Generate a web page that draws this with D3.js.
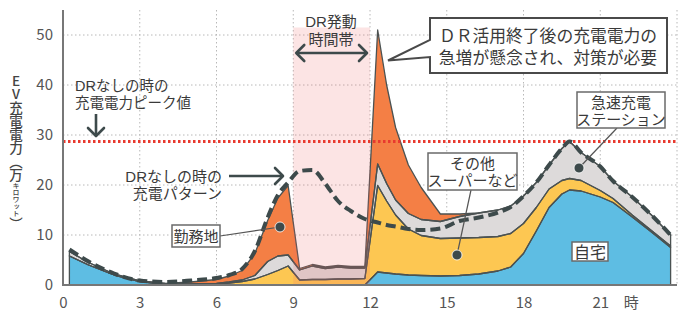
<!DOCTYPE html>
<html><head><meta charset="utf-8">
<script src="https://cdn.jsdelivr.net/npm/d3@7"></script>
<style>
html,body{margin:0;padding:0;background:#fff;}
svg{display:block;font-family:"Noto Sans CJK JP","Noto Sans",sans-serif;}
.lbl{font-family:"Liberation Sans","Noto Sans CJK JP",sans-serif;}
</style></head>
<body><svg id="c" width="700" height="326"></svg>
<script>
// ---- data ----
const hours   = [0.25,1,2,3,4,5,6,6.5,7,7.5,8,8.4,8.8,9.25,9.75,10.25,10.75,11.25,11.8,12.3,12.65,13,13.5,14,14.75,15.5,16.25,17,17.5,18,18.5,19,19.5,19.8,20.25,21,21.5,22.25,23,23.75];
const home    = [5.8,4.0,2.0,0.7,0.1,0,0,0,0,0,0,0,0,0,0,0,0,0,0,2.6,2.4,2.2,2.0,1.9,1.8,1.9,2.2,2.8,3.6,6.3,10.8,15.5,18.2,19.0,18.8,17.6,16.5,13.6,10.6,7.5];
const other   = [0,0,0,0,0.1,0.1,0.2,0.4,0.7,1.2,2.1,2.9,3.8,1.0,1.1,1.1,1.2,1.2,1.3,17.3,14.4,11.8,9.2,8.0,7.5,7.5,7.3,6.9,6.7,6.0,4.7,3.7,2.7,2.3,2.1,1.3,0.8,0.4,0.3,0.3];
const station = [0.9,0.5,0.2,0.1,0.1,0.1,0.1,0.2,0.3,0.7,2.6,2.9,2.2,2.0,2.7,2.2,2.4,2.2,2.1,4.3,3.5,3.0,3.1,3.2,3.4,4.3,4.9,5.3,5.5,5.5,5.0,4.8,6.4,7.4,5.6,4.8,3.5,3.6,3.1,2.2];
const work    = [0,0,0,0,0,0.4,0.8,1.2,1.9,4.4,8.2,11.6,13.9,0.3,0.3,0.3,0.3,0.3,0.3,26.8,19.7,14.5,9.7,6.4,1.5,0.5,0,0,0,0,0,0,0,0,0,0,0,0,0,0];
const noDR    = [7.1,4.7,2.3,0.9,0.6,0.9,1.4,2.0,3.2,6.8,13.5,18.0,20.5,22.8,23.0,20.3,16.8,14.8,13.2,12.5,12.0,11.7,11.2,11.0,11.3,12.8,13.5,14.5,15.6,17.8,20.5,24.0,27.3,28.7,26.5,23.7,20.8,17.6,14.0,10.0];
const seriesKeys   = ["home","other","station","work"];
const seriesColors = ["#5ebde3","#fdc752","#dddada","#f47f45"];
const yTicks = [0,10,20,30,40,50];
const xTicks = [0,3,6,9,12,15,18,21];
const xGrid  = [3,6,9,12,15,18,21,24];
const peakNoDR = 28.7;
const drWindow = [9,12];

// ---- setup ----
const svg = d3.select("#c");
const x = d3.scaleLinear().domain([0,24]).range([63,677]);
const y = d3.scaleLinear().domain([0,55]).range([285,10]);
const txt = "#3a3a3a", dark = "#3d4a4b";

const rows = hours.map((h,i)=>({h, home:home[i], other:other[i], station:station[i], work:work[i]}));
const stacked = d3.stack().keys(seriesKeys)(rows);

// grid
svg.append("g").selectAll("line").data(yTicks.filter(d=>d>0)).join("line")
  .attr("x1",x(0)).attr("x2",x(24)).attr("y1",d=>y(d)).attr("y2",d=>y(d))
  .attr("stroke","#b8b8b8").attr("stroke-width",1).attr("stroke-dasharray","1.5,2.5");
svg.append("g").selectAll("line").data(xGrid).join("line")
  .attr("x1",d=>x(d)).attr("x2",d=>x(d)).attr("y1",y(55)).attr("y2",y(0))
  .attr("stroke","#b8b8b8").attr("stroke-width",1).attr("stroke-dasharray","1.5,2.5");

// areas
const area = d3.area().x(d=>x(d.data.h)).y0(d=>y(d[0])).y1(d=>y(d[1]));
svg.append("g").selectAll("path").data(stacked).join("path")
  .attr("d",area).attr("fill",(d,i)=>seriesColors[i]);
svg.append("g").selectAll("path").data(stacked).join("path")
  .attr("d",area).attr("fill","none").attr("stroke","#4b5252").attr("stroke-width",1.3).attr("stroke-linejoin","round");

// DR band overlay
svg.append("rect").attr("x",x(drWindow[0])).attr("width",x(drWindow[1])-x(drWindow[0]))
  .attr("y",y(51.5)).attr("height",y(0)-y(51.5)).attr("fill","#f06a6a").attr("opacity",0.18);

// red dotted peak line
svg.append("line").attr("x1",x(0)).attr("x2",x(24)).attr("y1",y(peakNoDR)).attr("y2",y(peakNoDR))
  .attr("stroke","#e8392e").attr("stroke-width",3).attr("stroke-dasharray","2.5,2.5");

// dashed no-DR pattern
const line = d3.line().x((d,i)=>x(hours[i])).y(d=>y(d)).curve(d3.curveMonotoneX);
svg.append("path").datum(noDR).attr("d",line).attr("fill","none")
  .attr("stroke",dark).attr("stroke-width",4).attr("stroke-dasharray","10,5");

// axes
const ya = svg.append("g").attr("transform",`translate(${x(0)},0)`)
  .call(d3.axisLeft(y).tickValues(yTicks).tickSize(0).tickPadding(10));
ya.select(".domain").remove();
ya.selectAll("text").attr("font-size",15).attr("fill","#555").attr("font-family","Noto Sans CJK JP");
const xa = svg.append("g").attr("transform",`translate(0,${y(0)})`)
  .call(d3.axisBottom(x).tickValues(xTicks).tickSize(0).tickPadding(12));
xa.select(".domain").remove();
xa.selectAll("text").attr("font-size",15).attr("fill","#555").attr("font-family","Noto Sans CJK JP");
svg.append("text").attr("x",x(21)+31).attr("y",y(0)+23).attr("text-anchor","middle")
  .attr("font-size",15).attr("fill","#555").text("時");
svg.append("line").attr("x1",x(0)).attr("x2",x(0)).attr("y1",y(55)).attr("y2",y(0)+1)
  .attr("stroke","#777").attr("stroke-width",2);
svg.append("line").attr("x1",x(0)-1).attr("x2",x(24)).attr("y1",y(0)).attr("y2",y(0))
  .attr("stroke","#777").attr("stroke-width",2);

// y title (vertical writing, a single text element)
const yt = svg.append("text").attr("x",16).attr("y",74).attr("fill","#444")
  .attr("font-size",13.5).attr("font-weight",500)
  .style("writing-mode","vertical-rl").style("text-orientation","upright");
yt.append("tspan").text("EV充電電力（万");
yt.append("tspan").attr("font-size",7).text("キロワット");
yt.append("tspan").text("）");

// arrows
function chevron(px,py,dir){
  const s=8;
  let p;
  if(dir==="down") p=[[px-s,py-s],[px,py],[px+s,py-s]];
  if(dir==="left") p=[[px+s,py-s],[px,py],[px+s,py+s]];
  if(dir==="right") p=[[px-s,py-s],[px,py],[px-s,py+s]];
  svg.append("path").attr("d",d3.line()(p)).attr("fill","none").attr("stroke",dark).attr("stroke-width",2.6).attr("stroke-linecap","round").attr("stroke-linejoin","round");
}
// multi-line label as a single text element
function label(lines,xx,yy,fs,lh,anchor){
  const t = svg.append("text").attr("class","lbl").attr("x",xx).attr("y",yy).attr("font-size",fs).attr("fill",txt)
    .attr("text-anchor",anchor||"middle");
  lines.forEach((s,i)=>t.append("tspan").attr("x",xx).attr("dy",i?lh:0).text(s));
  return t;
}
// DR window label
label(["DR発動","時間帯"],331,27,15,18);
svg.append("line").attr("x1",x(9)+3).attr("x2",x(12)-3).attr("y1",53).attr("y2",53).attr("stroke",dark).attr("stroke-width",2.6);
chevron(x(9)+3,53,"left"); chevron(x(12)-3,53,"right");

// peak label
label(["DRなしの時の","充電電力ピーク値"],75,91,14.5,17,"start");
svg.append("line").attr("x1",96).attr("x2",96).attr("y1",114).attr("y2",136).attr("stroke",dark).attr("stroke-width",2.6);
chevron(96,136,"down");

// no-DR pattern label
label(["DRなしの時の","充電パターン"],222,182,15,17,"end");
svg.append("line").attr("x1",229).attr("x2",282).attr("y1",176).attr("y2",176).attr("stroke",dark).attr("stroke-width",2.6);
chevron(283,176,"right");

// callout
svg.append("path").attr("d","M430,18 H667 V73 H430 V57 L388,60.5 L430,40 Z")
  .attr("fill","#fff").attr("stroke","#4a4a4a").attr("stroke-width",2).attr("stroke-linejoin","miter");
label(["ＤＲ活用終了後の充電電力の","急増が懸念され、対策が必要"],548,42,16.8,22);

// boxed labels with leaders
function leader(x1,y1,x2,y2){
  svg.append("line").attr("x1",x1).attr("y1",y1).attr("x2",x2).attr("y2",y2).attr("stroke","#555").attr("stroke-width",1.2);
  svg.append("circle").attr("cx",x2).attr("cy",y2).attr("r",5).attr("fill",dark).attr("stroke","#fff").attr("stroke-width",0.8);
}
function boxLabel(lines, bx, by, bw, bh, fs, y0, lh){
  svg.append("rect").attr("x",bx).attr("y",by).attr("width",bw).attr("height",bh)
    .attr("fill","#fff").attr("stroke","#6a6a6a").attr("stroke-width",1.5);
  label(lines,bx+bw/2,y0,fs,lh);
}
leader(220,236,280,227);
boxLabel(["勤務地"],172,225,48,22,15,241.5,0);
leader(471,190,457,255);
boxLabel(["その他","スーパーなど"],428,153,89,37,15,168.5,17.5);
leader(617,128,579,168);
boxLabel(["急速充電","ステーション"],577,92,88,36,15,108,16.5);
boxLabel(["自宅"],572,242,36,19,16,257.5,0);
</script></body></html>
